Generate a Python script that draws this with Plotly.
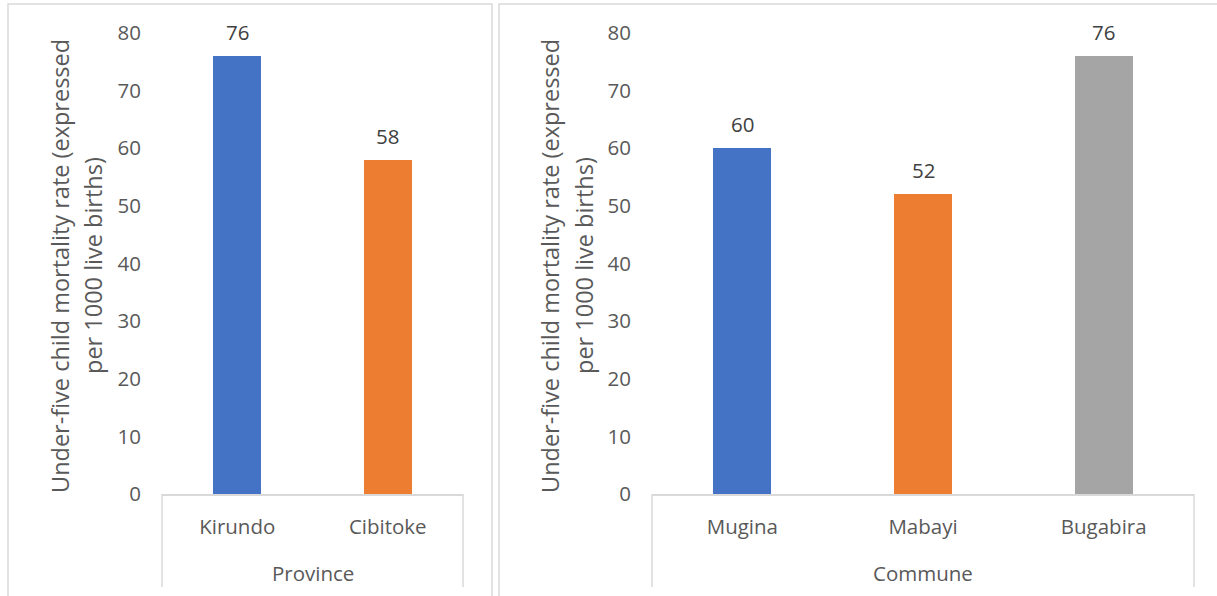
import plotly.graph_objects as go

# Under-five child mortality rate (per 1000 live births)
provinces = ["Kirundo", "Cibitoke"]
province_rates = [76, 58]
province_colors = ["#4472C4", "#ED7D31"]

communes = ["Mugina", "Mabayi", "Bugabira"]
commune_rates = [60, 52, 76]
commune_colors = ["#4472C4", "#ED7D31", "#A5A5A5"]

y_ticks = [0, 10, 20, 30, 40, 50, 60, 70, 80]
y_title_lines = ["Under-five child mortality rate (expressed", "per 1000 live births)"]

W, H = 1217, 596
FONT = "Open Sans, Noto Sans, Arial, sans-serif"
TXT = "#595959"
LINE = "#D9D9D9"
TICK_SIZE = 20.5
TITLE_SIZE = 23.5


def px(x):
    return x / W


def py(y):
    return 1 - y / H


fig = go.Figure()

fig.add_trace(go.Bar(
    x=provinces, y=province_rates, marker=dict(color=province_colors, line=dict(width=0)),
    width=0.32, xaxis="x", yaxis="y", showlegend=False, hoverinfo="x+y",
))
fig.add_trace(go.Bar(
    x=communes, y=commune_rates, marker=dict(color=commune_colors, line=dict(width=0)),
    width=0.32, xaxis="x2", yaxis="y2", showlegend=False, hoverinfo="x+y",
))

y_bottom, y_top = py(494), py(33)
left_dom = [px(162), px(463)]
right_dom = [px(652), px(1194)]

axis_common = dict(
    showgrid=False, zeroline=False, fixedrange=True, automargin=False,
    tickfont=dict(family=FONT, size=TICK_SIZE, color=TXT),
)
yaxis_common = dict(
    axis_common, range=[0, 80], tickvals=y_ticks, ticks="", showline=False,
    ticklabelstandoff=20, domain=[y_bottom, y_top],
)
xaxis_common = dict(
    axis_common, showline=True, linecolor=LINE, linewidth=1.5, ticks="",
    ticklabelstandoff=14,
)

fig.update_layout(
    width=W, height=H, autosize=False,
    margin=dict(l=0, r=0, t=0, b=0, pad=0, autoexpand=False),
    paper_bgcolor="white", plot_bgcolor="white",
    font=dict(family=FONT, size=TICK_SIZE, color=TXT),
    xaxis=dict(xaxis_common, domain=left_dom, anchor="y"),
    yaxis=dict(yaxis_common, anchor="x"),
    xaxis2=dict(xaxis_common, domain=right_dom, anchor="y2"),
    yaxis2=dict(yaxis_common, anchor="x2"),
    bargap=0,
)

annotations = []

# value labels above bars
for cats, vals, xa, ya in [(provinces, province_rates, "x", "y"),
                           (communes, commune_rates, "x2", "y2")]:
    for c, v in zip(cats, vals):
        annotations.append(dict(
            x=c, y=v, xref=xa, yref=ya, text=str(v), showarrow=False,
            yanchor="middle", yshift=24,
            font=dict(family=FONT, size=TICK_SIZE, color="#404040"),
        ))

# rotated two-line y-axis titles
for line_x in ((60, 93), (550, 584)):
    for xc, line in zip(line_x, y_title_lines):
        annotations.append(dict(
            x=px(xc), y=py(266), xref="paper", yref="paper", text=line,
            textangle=-90, showarrow=False, xanchor="center", yanchor="middle",
            font=dict(family=FONT, size=TITLE_SIZE, color=TXT),
        ))

# group labels under the category axis
for label, dom in (("Province", left_dom), ("Commune", right_dom)):
    annotations.append(dict(
        x=(dom[0] + dom[1]) / 2, y=py(573), xref="paper", yref="paper",
        text=label, showarrow=False, xanchor="center", yanchor="middle",
        font=dict(family=FONT, size=TICK_SIZE, color=TXT),
    ))

fig.update_layout(annotations=annotations)

shapes = []
# category axis box sides
for dom in (left_dom, right_dom):
    for xv in dom:
        shapes.append(dict(
            type="line", xref="paper", yref="paper", x0=xv, x1=xv,
            y0=py(494), y1=py(587), line=dict(color=LINE, width=1.5),
        ))
# chart area borders
shapes.append(dict(type="rect", xref="paper", yref="paper",
                   x0=px(8), x1=px(492), y0=py(604), y1=py(4),
                   line=dict(color=LINE, width=1.5), layer="below"))
shapes.append(dict(type="rect", xref="paper", yref="paper",
                   x0=px(499), x1=px(1225), y0=py(604), y1=py(4),
                   line=dict(color=LINE, width=1.5), layer="below"))
fig.update_layout(shapes=shapes)

fig.write_html("out.html", config={"responsive": False})
